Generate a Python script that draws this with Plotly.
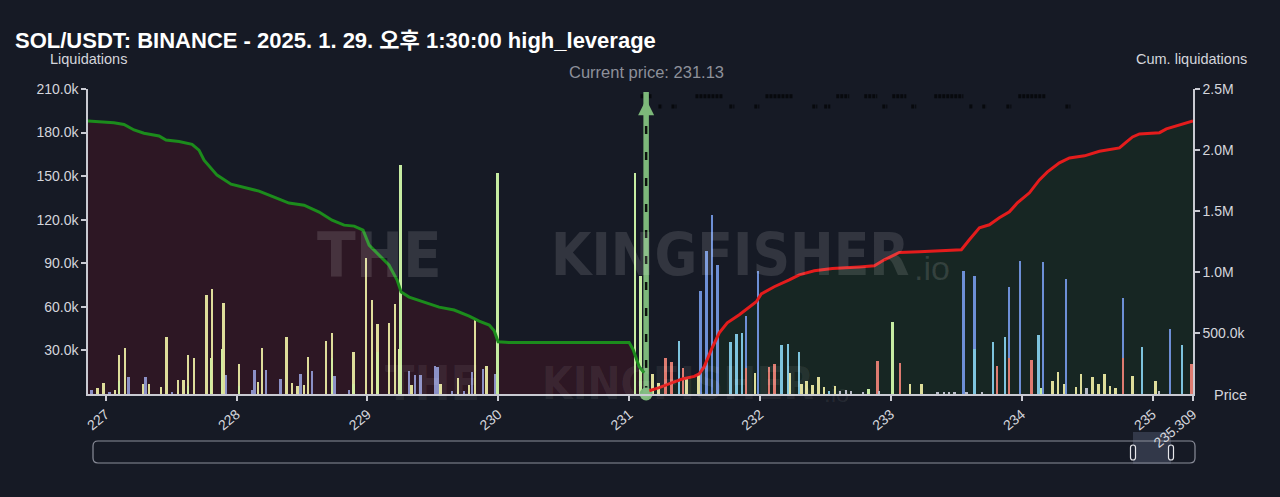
import plotly.graph_objects as go

# ---------------- data ----------------
title_text = "SOL/USDT: BINANCE - 2025. 1. 29. 오후 1:30:00 high_leverage"
current_price = 231.13

# bars: price -> liquidations (thousands)
yellow_p = [226.941, 226.985, 227.073, 227.104, 227.150, 227.291, 227.333, 227.423, 227.466, 227.553,
            227.596, 227.629, 227.675, 227.772, 227.815, 227.902, 228.021, 228.164, 228.197, 228.384,
            228.427, 228.468, 228.516, 228.547, 228.687, 228.730, 228.896, 228.992, 229.038, 229.080,
            229.168, 229.212, 229.339, 229.561, 229.693, 229.778, 229.823, 229.913, 231.179, 231.225,
            231.442, 231.531, 231.964, 232.232, 232.318, 232.359, 232.402, 232.448, 232.492, 232.576,
            233.147, 233.236, 234.237, 234.281, 234.327, 234.416, 234.457, 234.543, 234.587, 234.633,
            234.676, 234.717, 234.849, 235.023]
yellow_v = [3.9, 7.6, 3.0, 27, 31.6, 6.9, 6.9, 4.8, 39, 9.9,
            9.9, 27, 25, 68, 72, 63, 21, 8, 32, 39,
            7.6, 5.3, 6.4, 25.7, 36.7, 42, 29, 93.5, 65, 48,
            49, 62, 6, 7, 11, 6, 51, 19, 13.8, 7.3,
            12, 13, 14.2, 14.2, 6.9, 9.2, 6, 12, 5, 5.7,
            7, 7, 9, 15, 7, 4.8, 13.8, 12, 6.6, 13.5,
            5.5, 3.9, 12.6, 9.2]

inner_p = [227.104, 227.629, 227.805, 227.892, 228.021, 228.730, 228.896, 229.080, 229.248]
inner_v = [9, 5.7, 25, 31, 5.7, 25, 6.9, 29, 31]

lav_p = [226.895, 227.031, 227.178, 227.308, 227.509, 227.922, 228.119, 228.139, 228.228, 228.338,
         228.491, 228.577, 228.751, 228.862, 229.319, 229.365, 229.408, 229.518, 229.538, 229.650,
         229.739, 229.803, 229.887, 229.976]
lav_v = [2.5, 1.4, 11.5, 12, 1.4, 13, 2.5, 16.5, 16.5, 10,
         14, 16, 12.6, 3, 16, 13, 12.8, 19.5, 18.5, 1.8,
         1.8, 15, 17, 14]

lg_p = [229.255, 229.997, 231.047, 231.090, 233.014, 232.830, 234.148]
lg_v = [158, 152, 152, 81, 49.8, 3.2, 4.4]

blue_p = [231.549, 231.592, 231.636, 231.679, 231.895, 231.985, 233.556, 233.641, 233.906, 233.990,
          234.166, 234.342, 234.778, 235.137]
blue_v = [71, 98.6, 123, 89, 53.7, 85, 84.8, 81, 73.8, 91.5, 91, 79, 65.8, 44.5]

cyan_p = [231.383, 231.778, 231.821, 231.865, 232.168, 232.214, 232.300, 232.530, 233.784, 233.873,
          234.130, 234.921, 235.226]
cyan_v = [36.7, 35.5, 41, 41.7, 33.7, 34.4, 28.7, 2.3, 36, 39, 40.6, 32.6, 34]
cyan_inner_p = [233.641]
cyan_inner_v = [31]

sal_p = [231.281, 231.324, 231.414, 232.069, 232.112, 232.899, 233.072, 233.812, 234.076, 235.300]
sal_v = [25, 21.8, 17.7, 18.3, 21, 22.7, 21.6, 19.5, 23.4, 20.6]
sal_inner_p = [231.895, 233.906, 234.778]
sal_inner_v = [17.7, 24.5, 24.5]

small_p = [232.612, 232.658, 232.698, 232.790, 232.912, 233.357, 233.410, 233.448, 233.487, 233.579,
           233.697, 234.497, 235.053]
small_v = [2.3, 2.8, 2.3, 1.4, 2, 1.4, 1.4, 1.4, 1.4, 1, 1, 3.9, 2]

# cumulative liquidations (millions)
cum_left_p = [226.865, 227.063, 227.140, 227.217, 227.293, 227.408, 227.461, 227.561, 227.660, 227.713,
              227.752, 227.851, 227.958, 228.080, 228.172, 228.287, 228.401, 228.516, 228.631, 228.730,
              228.822, 228.899, 228.967, 229.013, 229.090, 229.166, 229.227, 229.258, 229.319, 229.434,
              229.548, 229.663, 229.778, 229.854, 229.931, 229.969, 229.999, 230.083, 231.000, 231.031,
              231.077, 231.115]
cum_left_v = [2.238, 2.224, 2.209, 2.164, 2.137, 2.115, 2.082, 2.069, 2.047, 1.999,
              1.917, 1.794, 1.720, 1.687, 1.663, 1.614, 1.565, 1.548, 1.491, 1.425,
              1.384, 1.376, 1.343, 1.220, 1.138, 1.056, 0.934, 0.835, 0.794, 0.753,
              0.712, 0.688, 0.639, 0.598, 0.565, 0.518, 0.428, 0.423, 0.423, 0.363,
              0.224, 0.174]

cum_right_p = [231.154, 231.230, 231.330, 231.406, 231.498, 231.536, 231.574, 231.628, 231.689, 231.750,
               231.842, 231.918, 231.972, 232.010, 232.109, 232.224, 232.300, 232.415, 232.553, 232.759,
               232.874, 232.950, 233.065, 233.218, 233.539, 233.600, 233.677, 233.753, 233.829, 233.906,
               233.967, 234.059, 234.135, 234.197, 234.288, 234.365, 234.480, 234.594, 234.747, 234.801,
               234.847, 234.900, 235.053, 235.106, 235.152, 235.206, 235.309]
cum_right_v = [0.027, 0.052, 0.093, 0.123, 0.144, 0.166, 0.224, 0.363, 0.502, 0.584,
               0.650, 0.715, 0.756, 0.821, 0.879, 0.936, 0.977, 1.010, 1.029, 1.042,
               1.051, 1.100, 1.160, 1.165, 1.182, 1.264, 1.362, 1.387, 1.444, 1.493,
               1.567, 1.649, 1.755, 1.821, 1.895, 1.935, 1.952, 1.990, 2.017, 2.066,
               2.107, 2.132, 2.142, 2.173, 2.189, 2.205, 2.238]

# faint dark label blocks near the top (price segments)
top_row1 = [(231.087, 231.178), (231.507, 231.713), (232.042, 232.249), (232.583, 232.682),
            (232.797, 232.896), (233.011, 233.118), (233.332, 233.554), (233.974, 234.188)]
top_row2 = [(231.224, 231.255), (231.324, 231.362), (231.766, 231.804), (231.957, 231.995),
            (232.400, 232.438), (232.491, 232.537), (232.935, 232.973), (233.156, 233.194),
            (233.600, 233.630), (233.699, 233.730), (233.883, 233.921), (234.334, 234.372)]

x_ticks = [227, 228, 229, 230, 231, 232, 233, 234, 235, 235.309]
x_ticktext = ["227", "228", "229", "230", "231", "232", "233", "234", "235", "235.309"]
y_ticks = [30000, 60000, 90000, 120000, 150000, 180000, 210000]
y_ticktext = ["30.0k", "60.0k", "90.0k", "120.0k", "150.0k", "180.0k", "210.0k"]
y2_ticks = [500000, 1000000, 1500000, 2000000, 2500000]
y2_ticktext = ["500.0k", "1.0M", "1.5M", "2.0M", "2.5M"]

# ---------------- styling ----------------
BG = "#161a25"
AX = "#c9cad2"
TXT = "#d4d5dc"
FONT = "Liberation Sans, Arial, Noto Sans CJK KR, sans-serif"
BW = 0.015

W, H = 1280, 497
L, R, T, B = 88, 87, 89, 103
PW, PH = W - L - R, H - T - B


def pxx(px):
    return (px - L) / PW


def pxy(py):
    return 1 - (py - T) / PH


fig = go.Figure()

# layer 1: fills (base y axis)
fig.add_trace(go.Scatter(x=cum_left_p, y=[v * 1e6 for v in cum_left_v], mode="lines",
                         line=dict(width=0), fill="tozeroy", fillcolor="rgba(100,15,35,0.30)",
                         hoverinfo="skip", showlegend=False, yaxis="y"))
fig.add_trace(go.Scatter(x=cum_right_p, y=[v * 1e6 for v in cum_right_v], mode="lines",
                         line=dict(width=0), fill="tozeroy", fillcolor="rgba(30,90,30,0.20)",
                         hoverinfo="skip", showlegend=False, yaxis="y"))


# layer 2: bars
def bars(px, pv, color):
    fig.add_trace(go.Bar(x=px, y=[v * 1000 for v in pv], width=BW,
                         marker=dict(color=color, line=dict(width=0)),
                         showlegend=False, yaxis="y2"))


bars(lg_p, lg_v, "#c6eca2")
bars(blue_p, blue_v, "#6d8fd6")
bars(yellow_p, yellow_v, "#dedd9a")
bars(lav_p, lav_v, "#8b90c6")
bars(cyan_p, cyan_v, "#7ec4de")
bars(sal_p, sal_v, "#de7b70")
bars(small_p, small_v, "#b9bcc8")
bars(inner_p, inner_v, "#d4eca0")
bars(cyan_inner_p, cyan_inner_v, "#7ec4de")
bars(sal_inner_p, sal_inner_v, "#de7b70")


# top faint blocks
def seg_xy(segs, yv):
    xs, ys = [], []
    for a, b in segs:
        xs += [a, b, None]
        ys += [yv, yv, None]
    return xs, ys


for segs, yv in ((top_row1, 205000), (top_row2, 198000)):
    sx, sy = seg_xy(segs, yv)
    fig.add_trace(go.Scatter(x=sx, y=sy, mode="lines",
                             line=dict(color="#07090d", width=4, dash="3px,1px"),
                             hoverinfo="skip", showlegend=False, yaxis="y2"))

# current price line
fig.add_trace(go.Scatter(x=[current_price, current_price], y=[0, 208000], mode="lines",
                         line=dict(color="#7db87a", width=5.5), hoverinfo="skip", showlegend=False,
                         yaxis="y2"))
fig.add_trace(go.Scatter(x=[current_price, current_price], y=[0, 192000], mode="lines",
                         line=dict(color="#0c120d", width=2.5, dash="8px,18px"), hoverinfo="skip",
                         showlegend=False, yaxis="y2"))
fig.add_trace(go.Scatter(x=[current_price], y=[203000], mode="markers",
                         marker=dict(symbol="arrow-up", size=16, color="#7db87a"),
                         hoverinfo="skip", showlegend=False, yaxis="y2", cliponaxis=False))
fig.add_trace(go.Scatter(x=[current_price], y=[0], mode="markers",
                         marker=dict(symbol="circle", size=13, color="#7db87a"),
                         hoverinfo="skip", showlegend=False, yaxis="y2", cliponaxis=False))

# layer 3: cumulative lines
fig.add_trace(go.Scatter(x=cum_left_p, y=[v * 1e6 for v in cum_left_v], mode="lines",
                         line=dict(color="#1c8c1c", width=3), showlegend=False, yaxis="y3"))
fig.add_trace(go.Scatter(x=cum_right_p, y=[v * 1e6 for v in cum_right_v], mode="lines",
                         line=dict(color="#e41c1c", width=3), showlegend=False, yaxis="y3"))

axis_common = dict(showgrid=False, zeroline=False, showline=True, linecolor=AX, linewidth=1.5,
                   ticks="outside", ticklen=5, tickcolor=AX, tickwidth=1.5,
                   tickfont=dict(family=FONT, size=14, color=TXT))

wm = "rgba(255,255,255,0.12)"
wm2 = "rgba(255,255,255,0.07)"
WMF = "DejaVu Sans Condensed, Liberation Sans Narrow, Liberation Sans, sans-serif"


def ann(text, px, py, size, color=TXT, family=FONT, xanchor="center"):
    return dict(text=text, x=pxx(px), y=pxy(py), xref="paper", yref="paper", showarrow=False,
                xanchor=xanchor, yanchor="middle", font=dict(family=family, size=size, color=color))


annotations = [
    # watermark
    ann("<b>THE</b>", 379, 255, 63, wm, WMF),
    ann("<b>KINGFISHER</b>", 730, 255, 58, wm, WMF),
    ann(".io", 912, 268, 34, wm, xanchor="left"),
    ann("<b>THE</b>", 432, 383, 48, wm2, WMF),
    ann("<b>KINGFISHER</b>", 678, 383, 44, wm2, WMF),
    ann(".io", 822, 393, 24, wm2, xanchor="left"),
    # axis titles
    ann("Liquidations", 88, 59, 14.5),
    ann("Cum. liquidations", 1191, 59, 14.5),
    ann("Price", 1230, 395, 14.5),
    dict(text="Current price: 231.13", x=current_price, xref="x", y=pxy(72), yref="paper",
         showarrow=False, yanchor="middle", font=dict(family=FONT, size=16.5, color="#8d909a")),
]


# range-slider look (layout decoration)
def rrect(x0, y0, x1, y1, r):
    X0, X1 = pxx(x0), pxx(x1)
    Y0, Y1 = pxy(y0), pxy(y1)
    rx, ry = r / PW, r / PH
    return (f"M {X0 + rx} {Y0} L {X1 - rx} {Y0} Q {X1} {Y0} {X1} {Y0 - ry} "
            f"L {X1} {Y1 + ry} Q {X1} {Y1} {X1 - rx} {Y1} L {X0 + rx} {Y1} "
            f"Q {X0} {Y1} {X0} {Y1 + ry} L {X0} {Y0 - ry} Q {X0} {Y0} {X0 + rx} {Y0} Z")


shapes = [
    dict(type="rect", xref="paper", yref="paper", x0=pxx(1133), x1=pxx(1171), y0=pxy(432), y1=pxy(464),
         fillcolor="#323849", line=dict(width=0), layer="below"),
    dict(type="path", xref="paper", yref="paper", path=rrect(93, 441, 1195, 463, 5),
         fillcolor="rgba(0,0,0,0)", line=dict(color="#8a8d99", width=1.2), layer="below"),
    dict(type="path", xref="paper", yref="paper", path=rrect(1130.5, 445, 1135.5, 460, 2.5),
         fillcolor="#1c2130", line=dict(color="#e6e6ea", width=1.2), layer="above"),
    dict(type="path", xref="paper", yref="paper", path=rrect(1168.5, 445, 1173.5, 460, 2.5),
         fillcolor="#1c2130", line=dict(color="#e6e6ea", width=1.2), layer="above"),
]

fig.update_layout(
    width=W, height=H,
    paper_bgcolor=BG, plot_bgcolor=BG,
    margin=dict(l=L, r=R, t=T, b=B),
    barmode="overlay",
    bargap=0,
    showlegend=False,
    font=dict(family=FONT, color=TXT),
    title=dict(text="<b>" + title_text + "</b>", x=15 / W, xref="container", xanchor="left",
               y=1 - 40 / H, yref="container", yanchor="middle",
               font=dict(family=FONT, size=22, color="#ffffff")),
    xaxis=dict(range=[226.865, 235.309], tickvals=x_ticks, ticktext=x_ticktext, tickangle=-40,
               **axis_common),
    yaxis=dict(range=[0, 2.5e6], visible=False, fixedrange=True),
    yaxis2=dict(range=[0, 210000], overlaying="y", side="left", anchor="x",
                tickvals=y_ticks, ticktext=y_ticktext, fixedrange=True, **axis_common),
    yaxis3=dict(range=[0, 2.5e6], overlaying="y", side="right", anchor="x",
                tickvals=y2_ticks, ticktext=y2_ticktext, fixedrange=True, **axis_common),
    annotations=annotations,
    shapes=shapes,
)

fig.write_html("out.html")
